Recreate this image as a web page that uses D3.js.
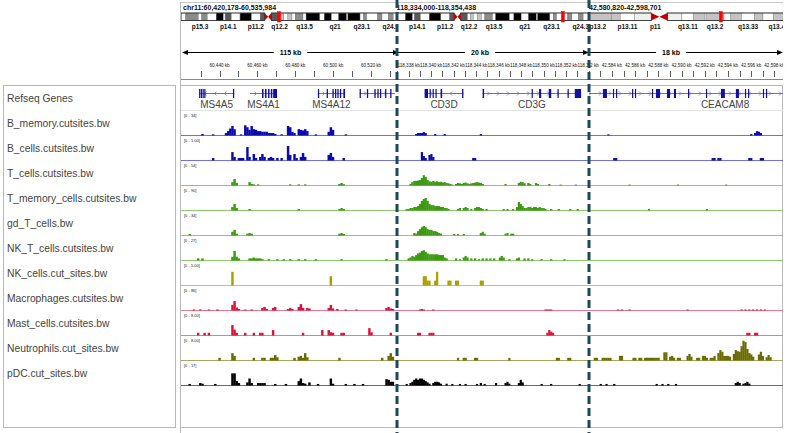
<!DOCTYPE html>
<html><head><meta charset="utf-8">
<script src="https://cdn.jsdelivr.net/npm/d3@7"></script>
<style>body{margin:0;background:#fff;} svg{display:block;font-family:"Liberation Sans",Arial,sans-serif;}</style>
</head><body><svg id="c" width="787" height="433"></svg>
<script>
// ---------------- DATA ----------------
const loci = ["chr11:60,420,178-60,535,984", "chr11:118,334,000-118,354,438", "chr19:42,580,820-42,598,701"];
const panelChrom = ["chr11", "chr11", "chr19"];
const locusStartKb = [60420.178, 118334.000, 42580.820];
const locusEndKb = [60535.984, 118354.438, 42598.701];
const spanLabels = ["115 kb", "20 kb", "18 kb"];
const minorTickKb = [10, 1, 1];
const labelTickKb = [20, 2, 2];
const binStartKb = [60420.18, 118337.05, 42582.11];
const binSizeKb = [1.13, 0.169, 0.1663];

// cytobands [name, startMb, endMb, stain]
const chr11Bands = [
 ["p15.5",0,2.8,"gneg"],["p15.4",2.8,10.7,"gpos50"],["p15.3",10.7,12.7,"gneg"],["p15.2",12.7,16.2,"gpos50"],
 ["p15.1",16.2,21.7,"gneg"],["p14.3",21.7,26.1,"gpos100"],["p14.2",26.1,27.2,"gneg"],["p14.1",27.2,31.0,"gpos75"],
 ["p13",31.0,36.4,"gneg"],["p12",36.4,43.5,"gpos100"],["p11.2",43.5,48.8,"gneg"],["p11.12",48.8,51.6,"gpos75"],
 ["p11.11",51.6,53.7,"acen"],["q11",53.7,55.7,"acen"],["q12.1",55.7,59.9,"gpos75"],["q12.2",59.9,61.7,"gneg"],
 ["q12.3",61.7,63.4,"gpos25"],["q13.1",63.4,65.9,"gneg"],["q13.2",65.9,68.4,"gpos25"],["q13.3",68.4,70.4,"gneg"],
 ["q13.4",70.4,75.2,"gpos50"],["q13.5",75.2,77.1,"gneg"],["q14.1",77.1,85.6,"gpos100"],["q14.2",85.6,88.3,"gneg"],
 ["q14.3",88.3,92.8,"gpos100"],["q21",92.8,97.2,"gneg"],["q22.1",97.2,102.1,"gpos100"],["q22.2",102.1,102.9,"gneg"],
 ["q22.3",102.9,110.4,"gpos100"],["q23.1",110.4,112.5,"gneg"],["q23.2",112.5,114.5,"gpos50"],["q23.3",114.5,121.2,"gneg"],
 ["q24.1",121.2,123.9,"gpos50"],["q24.2",123.9,127.8,"gneg"],["q24.3",127.8,130.8,"gpos50"],["q25",130.8,135.0,"gneg"]
];
const chr19Bands = [
 ["p13.3",0,6.9,"gneg"],["p13.2",6.9,13.9,"gpos25"],["p13.13",13.9,14.0,"gneg"],["p13.12",14.0,16.3,"gpos25"],
 ["p13.11",16.3,20.0,"gneg"],["p12",20.0,24.4,"gvar"],["p11",24.4,26.5,"acen"],["q11",26.5,28.6,"acen"],
 ["q12",28.6,32.4,"gvar"],["q13.11",32.4,35.5,"gneg"],["q13.12",35.5,38.3,"gpos25"],["q13.13",38.3,38.7,"gneg"],
 ["q13.2",38.7,43.4,"gpos25"],["q13.31",43.4,45.2,"gneg"],["q13.32",45.2,48.0,"gpos25"],["q13.33",48.0,51.4,"gneg"],
 ["q13.41",51.4,53.6,"gpos25"],["q13.42",53.6,56.3,"gneg"],["q13.43",56.3,59.1,"gpos25"]
];
const chr11Labels = ["p15.3","p14.1","p11.2","q12.2","q13.5","q21","q23.1","q24.3"];
const chr19Labels = ["p13.2","p13.11","p11","q13.11","q13.2","q13.33","q13.43"];

// genes: positions in coverage-bin units of their panel
const genes = [
 {name:"MS4A5", panel:0, start:7.9, end:24.4, strand:"-", exons:[[8.0,8.5],[8.8,9.3],[9.6,10.1],[10.4,10.9],[23.8,24.4]]},
 {name:"MS4A1", panel:0, start:31.8, end:44.4, strand:"+", exons:[[37.4,38.1],[38.8,39.5],[40.2,40.9],[41.5,42.2],[42.6,44.4]]},
 {name:"MS4A12", panel:0, start:63.5, end:76.2, strand:"+", exons:[[63.5,64.1],[67.6,68.2],[70.3,70.9],[71.5,72.1],[72.6,73.2],[73.8,74.4],[75.4,76.2]]},
 {name:"", panel:0, start:83.0, end:99.5, strand:"+", exons:[[83.0,83.6],[86.4,87.0],[89.9,90.5],[91.3,91.9],[92.5,93.1],[94.9,95.5],[97.3,97.9]]},
 {name:"CD3D", panel:1, start:14.0, end:34.4, strand:"-", exons:[[14.0,15.8],[16.6,17.1],[18.2,18.7],[19.7,20.3],[22.4,23.2],[33.7,34.4]]},
 {name:"CD3G", panel:1, start:44.5, end:96.3, strand:"+", exons:[[44.5,45.3],[70.3,70.9],[74.2,75.3],[79.3,80.6],[83.9,84.5],[89.2,89.8],[93.0,96.3]]},
 {name:"CEACAM8", panel:2, start:-8, end:148, strand:"+", exons:[[6.7,8.8],[11.9,12.4],[13.5,14.0],[21.8,22.3],[23.3,23.8],[32.1,32.6],[34.2,36.3],[39.9,41.5],[43.5,44.6],[50.8,51.3],[60.1,60.6],[67.9,69.9],[75.6,77.2],[80.3,80.8],[81.9,82.4],[89.6,90.2],[91.2,91.7]]}
];

const trackNames = ["B_memory.cutsites.bw","B_cells.cutsites.bw","T_cells.cutsites.bw","T_memory_cells.cutsites.bw","gd_T_cells.bw","NK_T_cells.cutsites.bw","NK_cells.cut_sites.bw","Macrophages.cutsites.bw","Mast_cells.cutsites.bw","Neutrophils.cut_sites.bw","pDC.cut_sites.bw"];
const trackMax = [34, 1.00, 54, 90, 34, 27, 5.00, 86, 8.00, 8.00, 17];
const rangeLabels = ["[0 - 34]","[0 - 1.00]","[0 - 54]","[0 - 90]","[0 - 34]","[0 - 27]","[0 - 5.00]","[0 - 86]","[0 - 8.00]","[0 - 8.00]","[0 - 17]"];
const trackColor = ["#0a0ab0","#0a0ab0","#3a9a10","#3a9a10","#3a9a10","#3a9a10","#a8a000","#dc143c","#dc143c","#6b6b00","#000000"];
const baseColor = ["#7272dc","#7272dc","#8ccc6c","#8ccc6c","#8ccc6c","#8ccc6c","#c4c084","#e87a92","#e87a92","#a8a862","#6a6a6a"];

// coverage values: [bin, value] per panel
const B_memory = [
 [[9,1.5],[14,1],[20,3],[21,6],[22,10],[23,14],[24,9],[27,1],[29,15],[30,12],[31,8],[32,14],[33,9],[34,8],[35,6],[36,6],[37,5],[38,5],[39,5],[40,3],[41,3],[42,3],[43,1.5],[46,1],[49,14],[50,12],[51,5],[52,3],[54,9],[55,8],[56,7],[57,9],[58,6],[62,1],[68,5],[69,12],[70,8],[76,1]],
 [[9,1.5],[10,3],[11,3],[12,3],[13,4.5],[14,3],[19,1.5],[24,1.5],[43,1.5]],
 [[9,1],[83,1.5],[85,3],[86,6],[87,5],[88,3]]];
const B_cells = [
 [[14,0.09],[23,0.36],[24,0.14],[26,0.09],[27,0.09],[28,0.09],[30,0.59],[31,0.14],[33,0.27],[34,0.09],[36,0.14],[37,0.27],[38,0.14],[40,0.09],[41,0.14],[42,0.09],[44,0.09],[46,0.09],[49,0.64],[50,0.23],[52,0.27],[53,0.09],[55,0.14],[56,0.32],[57,0.14],[68,0.23],[69,0.32],[70,0.14],[75,0.09]],
 [[12,0.36],[13,0.18],[14,0.09],[16,0.23],[17,0.27],[18,0.14],[39,0.09],[40,0.09]],
 [[12,0.09],[13,0.09],[63,0.09],[64,0.09],[66,0.09],[67,0.09],[82,0.09],[83,0.09],[88,0.09],[89,0.09]]];
const T_cells = [
 [[23,7],[24,15],[25,5],[31,7],[32,2.5],[33,1.5],[35,1.5],[50,1.5],[54,1.5],[57,1.5],[73,2.5],[74,5],[75,2]],
 [[6,2.5],[7,7],[8,10],[9,10],[10,11],[11,12],[12,17],[13,24],[14,20],[15,12],[16,9],[17,8],[18,10],[19,8],[20,9],[21,7],[22,8],[23,6],[24,7],[25,5],[26,4],[27,2.5],[28,1],[30,2.5],[31,5],[32,4],[33,2.5],[34,5],[35,6],[36,4],[37,2.5],[38,4],[39,5],[40,6],[41,7],[42,6],[43,5],[44,2.5],[56,2.5],[63,5],[64,8],[65,7],[66,4],[68,5],[69,2.5],[72,5],[73,2.5],[79,2.5],[85,1],[93,1]],
 [[20,1],[45,1],[70,1]]];
const T_memory = [
 [[23,12],[24,25],[25,8],[31,4],[54,4],[73,4],[74,8],[75,4]],
 [[4,4],[5,4],[6,8],[7,8],[8,12],[9,12],[10,16],[11,25],[12,37],[13,45],[14,49],[15,37],[16,25],[17,20],[18,20],[19,16],[20,16],[21,16],[22,12],[23,12],[24,8],[25,8],[26,4],[31,4],[32,8],[34,8],[35,12],[36,8],[38,4],[40,8],[41,12],[42,12],[43,8],[44,4],[46,4],[55,4],[57,4],[60,4],[62,12],[63,33],[64,25],[65,16],[66,8],[67,8],[68,12],[69,12],[70,8],[71,12],[72,12],[73,8],[74,12],[75,8],[76,8],[77,4],[80,4],[84,4],[90,4],[94,4]],
 [[30,4],[60,4]]];
const gd_T = [
 [[3,1.5],[23,5],[24,8],[25,2],[30,2],[31,3],[32,2],[73,2],[74,3],[75,1.5]],
 [[8,3],[9,2],[10,6],[11,9],[12,12],[13,14],[14,12],[15,9],[16,8],[17,8],[18,6],[19,6],[20,5],[21,3],[22,2],[29,1.5],[31,1.5],[34,1.5],[43,3],[44,5],[45,2],[56,2],[57,3],[59,2],[60,2]],
 []];
const NK_T = [
 [[7,2],[9,2],[23,4],[24,11],[25,4],[26,2],[31,2],[32,2],[33,3],[34,2],[35,2],[36,2],[37,1],[40,1],[44,1],[47,1],[50,1],[54,1],[57,1],[62,1],[74,1],[95,1]],
 [[5,2],[6,3],[7,5],[8,4],[9,6],[10,8],[11,9],[12,11],[13,12],[14,10],[15,8],[16,7],[17,7],[18,7],[19,7],[20,7],[21,6],[22,6],[23,6],[24,3],[25,2],[30,2],[32,1],[34,3],[35,5],[36,3],[38,2],[40,2],[42,1],[44,2],[46,2],[48,2],[50,2],[53,3],[54,5],[55,3],[58,1],[62,2],[63,3],[66,2],[68,2],[70,1],[75,1],[80,1],[87,1]],
 []];
const NK_cells = [
 [[23,3],[69,2]],
 [[13,2],[14,2],[15,1],[16,1],[19,1],[20,3],[26,1],[27,1],[30,1],[31,1],[43,1],[44,1]],
 []];
const Macrophages = [
 [[5,2],[8,2],[12,2],[16,2],[23,20],[24,35],[25,10],[26,4],[29,2],[32,2],[37,8],[38,12],[39,4],[42,8],[43,12],[49,4],[50,8],[51,4],[54,12],[55,23],[56,8],[58,8],[59,6],[68,8],[69,20],[70,6],[72,4],[76,2],[81,2],[95,8],[96,12],[97,6],[98,4]],
 [[11,2],[12,4],[13,2],[18,2],[77,2],[78,2],[79,2],[80,2]],
 [[14,2],[16,2],[20,2],[50,2],[78,2],[80,2],[82,2],[84,2],[86,2],[88,2],[90,2]]];
const Mast = [
 [[7,0.8],[10,0.8],[12,0.8],[23,3.6],[24,2],[25,0.8],[29,0.8],[33,0.8],[36,0.8],[37,0.8],[42,1.8],[56,0.8],[65,1.8],[68,1.8],[69,1],[70,0.8],[74,0.8],[75,0.8],[87,2.5],[88,1],[97,0.8]],
 [[10,0.8],[11,0.8],[16,0.8],[17,0.8],[18,0.8],[78,0.8],[79,1.8],[80,1.2],[81,0.8]],
 [[81,0.8],[82,0.8],[85,0.8],[86,0.8]]];
const Neutrophils = [
 [[17,0.8],[23,2.5],[24,1.5],[33,0.8],[37,0.8],[38,0.8],[41,0.8],[42,0.8],[43,1.8],[44,1],[52,0.8],[54,1.2],[55,1.5],[56,0.8],[57,2.5],[58,1],[73,0.8],[93,0.8],[96,1.5],[97,2.5],[98,1.2]],
 [[31,0.8],[34,0.8],[35,0.8],[40,0.8],[41,0.8],[58,0.8],[83,0.8],[84,0.8],[89,0.8],[90,0.8]],
 [[2,0.8],[3,0.8],[6,0.8],[7,0.8],[8,0.8],[9,0.8],[10,0.8],[15,1.5],[16,1.5],[22,0.8],[23,0.8],[25,0.8],[26,0.8],[28,0.8],[29,0.8],[30,0.8],[31,0.8],[32,0.8],[33,0.8],[34,0.8],[35,0.8],[38,2.8],[39,2.8],[41,1.2],[42,1.5],[43,0.8],[45,0.8],[46,0.8],[50,1.5],[51,2.2],[52,1.2],[55,0.8],[56,0.8],[58,1.5],[59,1.5],[60,0.8],[62,0.8],[63,0.8],[64,1.5],[66,2.5],[67,3.6],[68,3],[69,1.5],[70,1.5],[71,1.5],[72,1.2],[74,2.2],[75,3.6],[76,3.2],[77,3],[78,5],[79,7],[80,6.5],[81,4],[82,2.5],[83,2],[84,1.2],[87,2],[88,3],[89,1.5],[91,1],[92,1.8],[93,1]]];
const pDC = [
 [[3,0.8],[8,1.5],[9,1],[15,0.8],[23,9],[24,9],[25,3],[26,1.5],[30,2],[31,5],[32,1.5],[35,1.5],[36,1.5],[37,1.5],[38,1.5],[43,0.8],[48,0.8],[54,3],[55,5],[56,1.5],[57,1],[59,2],[63,0.8],[69,5],[70,1],[76,0.8],[80,0.8],[84,0.8],[95,4.5],[96,4],[97,2.5],[98,2.5]],
 [[4,0.8],[6,1.5],[7,2.5],[8,4],[9,5],[10,4],[11,5],[12,5],[13,4],[14,3],[15,2],[16,1],[18,1.5],[19,2.5],[20,2.5],[21,2],[22,1],[25,1],[28,0.8],[32,0.8],[35,0.8],[41,0.8],[43,1.5],[45,0.8],[51,1.5],[56,1.5],[57,2.5],[58,1],[63,1.5],[64,4],[65,2],[75,0.8],[80,0.8],[95,0.8]],
 [[5,0.8],[8,0.8],[12,0.8],[34,0.8],[37,0.8],[40,0.8],[44,0.8],[75,1.5],[76,2.5],[77,1.5],[79,1],[80,1.5],[81,2.5],[82,1]]];
const trackData = [B_memory, B_cells, T_cells, T_memory, gd_T, NK_T, NK_cells, Macrophages, Mast, Neutrophils, pDC];

// ---------------- LAYOUT ----------------
const rulerRange = [[182,401.3],[363.7,593.6],[575,782.5]];
const clipX = [[181,397],[397,589],[589,783]];
const ideoRange = [[181,400],[370,590],[558,784]];
const locusTextX = [183, 376, 568];
const dividers = [397, 589];
const trackTop0 = 111, trackH = 25, dataH = 22;

const svg = d3.select("#c");
svg.append("rect").attr("width",787).attr("height",433).attr("fill","#fff");
const defs = svg.append("defs");
clipX.forEach((c,i)=>{
  defs.append("clipPath").attr("id","clip"+i).append("rect")
    .attr("x",c[0]).attr("y",0).attr("width",c[1]-c[0]).attr("height",433);
});

// frames
svg.append("rect").attr("x",3.5).attr("y",85.5).attr("width",172).attr("height",342)
  .attr("fill","#fff").attr("stroke","#b8b8b8");
svg.append("rect").attr("x",180.5).attr("y",85.5).attr("width",602).attr("height",342)
  .attr("fill","none").attr("stroke","#b8b8b8");
svg.append("line").attr("x1",180.5).attr("x2",180.5).attr("y1",2).attr("y2",433).attr("stroke","#b8b8b8");
svg.append("line").attr("x1",180.5).attr("x2",783).attr("y1",2.5).attr("y2",2.5).attr("stroke","#c8c8c8");

const stainColor = {gneg:"#ffffff", gpos25:"#c4c4c4", gpos50:"#8c8c8c", gpos75:"#5a5a5a", gpos100:"#000000", gvar:"#f0f0f0", acen:"#c00000"};

const xs = locusStartKb.map((s,i)=> d3.scaleLinear().domain([s, locusEndKb[i]]).range(rulerRange[i]));

for (let i=0;i<3;i++){
  const g = svg.append("g").attr("clip-path",`url(#clip${i})`);
  const bands = panelChrom[i]==="chr11" ? chr11Bands : chr19Bands;
  const labels = panelChrom[i]==="chr11" ? chr11Labels : chr19Labels;
  const chrLen = d3.max(bands, d=>d[2]);
  const ix = d3.scaleLinear().domain([0,chrLen]).range(ideoRange[i]);
  // locus text
  g.append("text").attr("x",locusTextX[i]).attr("y",10).attr("font-size",7).attr("font-weight","bold")
    .attr("fill","#111").text(loci[i]);
  // ideogram
  const iy = 13, ih = 7.5;
  g.selectAll(".band").data(bands.filter(b=>b[3]!=="acen")).join("rect")
    .attr("x",d=>ix(d[1])).attr("width",d=>ix(d[2])-ix(d[1])).attr("y",iy).attr("height",ih)
    .attr("fill",d=>stainColor[d[3]]).attr("stroke","#777").attr("stroke-width",0.4);
  const acen = bands.filter(b=>b[3]==="acen");
  const pEnd = acen[0][1], qStart = acen[1][2];
  g.append("rect").attr("x",ix(0)).attr("y",iy).attr("width",ix(pEnd)-ix(0)).attr("height",ih)
    .attr("fill","none").attr("stroke","#222").attr("stroke-width",0.8);
  g.append("rect").attr("x",ix(qStart)).attr("y",iy).attr("width",ix(chrLen)-ix(qStart)).attr("height",ih)
    .attr("fill","none").attr("stroke","#222").attr("stroke-width",0.8);
  // centromere
  g.append("path").attr("d",`M${ix(acen[0][1])},${iy}L${ix(acen[0][2])},${iy+ih/2}L${ix(acen[0][1])},${iy+ih}Z`).attr("fill","#c00000");
  g.append("path").attr("d",`M${ix(acen[1][2])},${iy}L${ix(acen[1][1])},${iy+ih/2}L${ix(acen[1][2])},${iy+ih}Z`).attr("fill","#c00000");
  // current region marker
  const cMb = (locusStartKb[i]+locusEndKb[i])/2/1000;
  g.append("rect").attr("x",ix(cMb)-1.5).attr("y",iy-1.5).attr("width",3).attr("height",ih+3)
    .attr("fill","#ff0000").attr("stroke","#ff0000").attr("stroke-width",0.5);
  // band labels
  g.selectAll(".bl").data(bands.filter(b=>labels.includes(b[0]))).join("text")
    .attr("x",d=>ix((d[1]+d[2])/2)).attr("y",28.5).attr("text-anchor","middle")
    .attr("font-size",6.5).attr("font-weight","bold").attr("fill","#111").text(d=>d[0]);
  // ruler span
  const rx = xs[i], r0 = ideoRange[i][0]+1, r1 = ideoRange[i][1]-1;
  g.append("line").attr("x1",r0+1).attr("x2",r1-1).attr("y1",52.5).attr("y2",52.5).attr("stroke","#000");
  g.append("path").attr("d",`M${r0},52.5L${r0+6},50L${r0+6},55Z`).attr("fill","#000");
  g.append("path").attr("d",`M${r1},52.5L${r1-6},50L${r1-6},55Z`).attr("fill","#000");
  const cx = (r0+r1)/2;
  const st = g.append("text").attr("x",cx).attr("y",55).attr("text-anchor","middle").attr("font-size",7)
    .attr("font-weight","bold").text(spanLabels[i]);
  const bb = st.node().getBBox();
  g.insert("rect", "text:last-child").attr("x",bb.x-6).attr("y",48).attr("width",bb.width+12).attr("height",9).attr("fill","#fff");
  // ticks
  const ticks = d3.range(Math.ceil(locusStartKb[i]/minorTickKb[i])*minorTickKb[i], locusEndKb[i], minorTickKb[i]);
  g.selectAll(".tk").data(ticks).join("line").attr("x1",d=>Math.round(rx(d))+0.5).attr("x2",d=>Math.round(rx(d))+0.5)
    .attr("y1",71).attr("y2",77).attr("stroke","#333").attr("stroke-width",0.8);
  const fmt = d3.format(",");
  g.selectAll(".tl").data(ticks.filter(d=>Math.abs(d/labelTickKb[i]-Math.round(d/labelTickKb[i]))<1e-6)).join("text")
    .attr("x",d=>rx(d)).attr("y",67).attr("text-anchor","middle").attr("font-size",4.6).attr("fill","#111")
    .text(d=>fmt(Math.round(d))+" kb");
}
svg.append("line").attr("x1",181).attr("x2",783).attr("y1",79.5).attr("y2",79.5).attr("stroke","#888");

// names panel
svg.append("text").attr("x",7).attr("y",102).attr("font-size",10.3).attr("fill","#444").text("Refseq Genes");
svg.selectAll(".tn").data(trackNames).join("text").attr("x",7).attr("y",(d,i)=>trackTop0+trackH*i+16)
  .attr("font-size",10.3).attr("fill","#444").text(d=>d);

// gene separator
svg.append("line").attr("x1",181).attr("x2",783).attr("y1",110.5).attr("y2",110.5).attr("stroke","#e4e4e4");

// tracks
for (let p=0;p<3;p++){
  const g = svg.append("g").attr("clip-path",`url(#clip${p})`);
  const x = xs[p];
  const bx = b => x(binStartKb[p] + b*binSizeKb[p]);
  // genes
  const gy = 93;
  genes.filter(d=>d.panel===p).forEach(gn=>{
    const gg = g.append("g");
    gg.append("line").attr("x1",bx(gn.start)).attr("x2",bx(gn.end)).attr("y1",gy+0.5).attr("y2",gy+0.5)
      .attr("stroke","#6a6ad8").attr("stroke-width",1);
    const x0 = bx(gn.start), x1 = bx(gn.end);
    const arrows = d3.range(x0+6, x1-3, 10);
    gg.selectAll(".ar").data(arrows).join("path")
      .attr("d",d=> gn.strand==="+" ? `M${d-1.5},${gy-1.5}L${d+0.5},${gy+0.5}L${d-1.5},${gy+2.5}` : `M${d+1.5},${gy-1.5}L${d-0.5},${gy+0.5}L${d+1.5},${gy+2.5}`)
      .attr("fill","none").attr("stroke","#6a6ad8").attr("stroke-width",0.8);
    gg.selectAll(".ex").data(gn.exons).join("rect")
      .attr("x",d=>bx(d[0])).attr("width",d=>Math.max(1.2,bx(d[1])-bx(d[0]))).attr("y",gy-4).attr("height",9)
      .attr("fill","#1010a8");
    if (gn.name) gg.append("text").attr("x",(x0+x1)/2).attr("y",gy+14.5).attr("text-anchor","middle")
      .attr("font-size",10).attr("fill","#444").text(gn.name);
  });
  // coverage tracks
  trackData.forEach((td,t)=>{
    const top = trackTop0 + trackH*t, base = top + 24;
    const y = d3.scaleLinear().domain([0,trackMax[t]]).range([base, base-dataH]);
    g.append("line").attr("x1",181).attr("x2",783).attr("y1",base+0.5).attr("y2",base+0.5).attr("stroke",baseColor[t]);
    g.selectAll(null).data(td[p]).join("rect")
      .attr("x",d=>bx(d[0])).attr("width",d=>bx(d[0]+1)-bx(d[0])+0.3)
      .attr("y",d=>y(d[1])).attr("height",d=>base-y(d[1])+0.5)
      .attr("fill",trackColor[t]);
  });
}
// range labels
svg.selectAll(".rl").data(rangeLabels).join("text").attr("x",184).attr("y",(d,i)=>trackTop0+trackH*i+5.5)
  .attr("font-size",4).attr("fill","#222").text(d=>d);

// dashed dividers
svg.selectAll(".dv").data(dividers).join("line").attr("x1",d=>d).attr("x2",d=>d).attr("y1",0).attr("y2",433)
  .attr("stroke","#1c4a5c").attr("stroke-width",3).attr("stroke-dasharray","8,4");
</script></body></html>
